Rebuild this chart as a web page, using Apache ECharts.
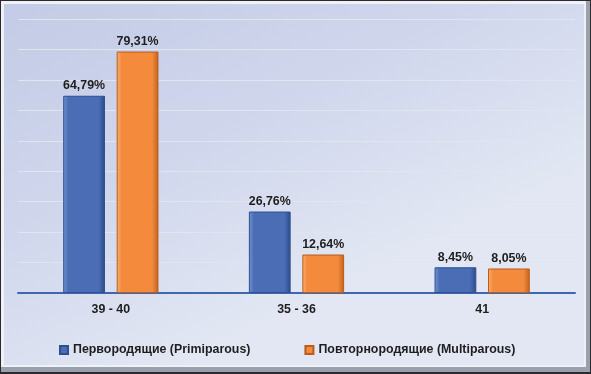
<!DOCTYPE html>
<html><head><meta charset="utf-8">
<script src="https://cdn.jsdelivr.net/npm/echarts@6/dist/echarts.min.js"></script>
<style>html,body{margin:0;padding:0;background:#fff}#c{width:591px;height:374px}</style>
</head><body><div id="c"></div>
<script>
var categories = ['39 - 40', '35 - 36', '41'];
var primiparous = [64.79, 26.76, 8.45];
var multiparous = [79.31, 12.64, 8.05];
var seriesNames = ['Первородящие (Primiparous)', 'Повторнородящие (Multiparous)'];

var chart = echarts.init(document.getElementById('c'));
function barGrad(light, mid, dark) {
  return new echarts.graphic.LinearGradient(0, 0, 1, 0, [
    {offset: 0, color: light}, {offset: 0.12, color: mid}, {offset: 0.85, color: mid}, {offset: 1, color: dark}
  ]);
}
var FS = 12.4;
var labelStyle = {show: true, position: 'top', distance: 4, color: '#1e1e1e', fontFamily: 'Liberation Sans, Arial', fontWeight: 'bold', fontSize: FS,
  formatter: function (p) { return p.value.toFixed(2).replace('.', ',') + '%'; }};
chart.setOption({
  animation: false,
  backgroundColor: 'transparent',
  graphic: [
    {type: 'rect', shape: {x: 0, y: 0, width: 591, height: 374}, style: {fill: '#2a2a2a'}, z: -10},
    {type: 'rect', shape: {x: 1, y: 1, width: 589, height: 371}, style: {fill: '#9aa0ad'}, z: -9},
    {type: 'rect', shape: {x: 1, y: 1, width: 585, height: 366}, style: {fill: '#eef1f8'}, z: -8},
    {type: 'rect', shape: {x: 4, y: 4, width: 580, height: 361},
      style: {fill: new echarts.graphic.LinearGradient(0, 0, 0.3, 1, [
        {offset: 0, color: '#c3cbe6'}, {offset: 0.5, color: '#cfd6ec'}, {offset: 1, color: '#e2e7f3'}])}, z: -7}
  ],
  grid: {left: 18, right: 16, top: 19, bottom: 81, containLabel: false},
  legend: {
    top: 339, left: 54, itemGap: 54, itemWidth: 8, itemHeight: 8, icon: 'rect',
    textStyle: {fontFamily: 'Liberation Sans, Arial', fontWeight: 'bold', fontSize: FS, color: '#1e1e1e'},
    data: seriesNames
  },
  xAxis: {
    type: 'category', data: categories,
    axisLine: {lineStyle: {color: '#3d68b0', width: 2}},
    axisTick: {show: false},
    axisLabel: {margin: 11, fontFamily: 'Liberation Sans, Arial', fontWeight: 'bold', fontSize: FS, color: '#1e1e1e'}
  },
  yAxis: {
    type: 'value', min: 0, max: 90, interval: 10,
    axisLabel: {show: false}, axisLine: {show: false}, axisTick: {show: false},
    splitLine: {lineStyle: {color: '#e3e5ee', width: 1}}
  },
  series: [
    {name: seriesNames[0], type: 'bar', data: primiparous, barWidth: '22.5%', barGap: '28%',
      itemStyle: {color: barGrad('#7596d4', '#4a6db5', '#2c4a86'), borderColor: '#2f4f8f', borderWidth: 1},
      label: labelStyle},
    {name: seriesNames[1], type: 'bar', data: multiparous, barWidth: '22.5%',
      itemStyle: {color: barGrad('#fbb073', '#f38a3c', '#c2621c'), borderColor: '#b85d1c', borderWidth: 1},
      label: labelStyle}
  ]
});
</script></body></html>
